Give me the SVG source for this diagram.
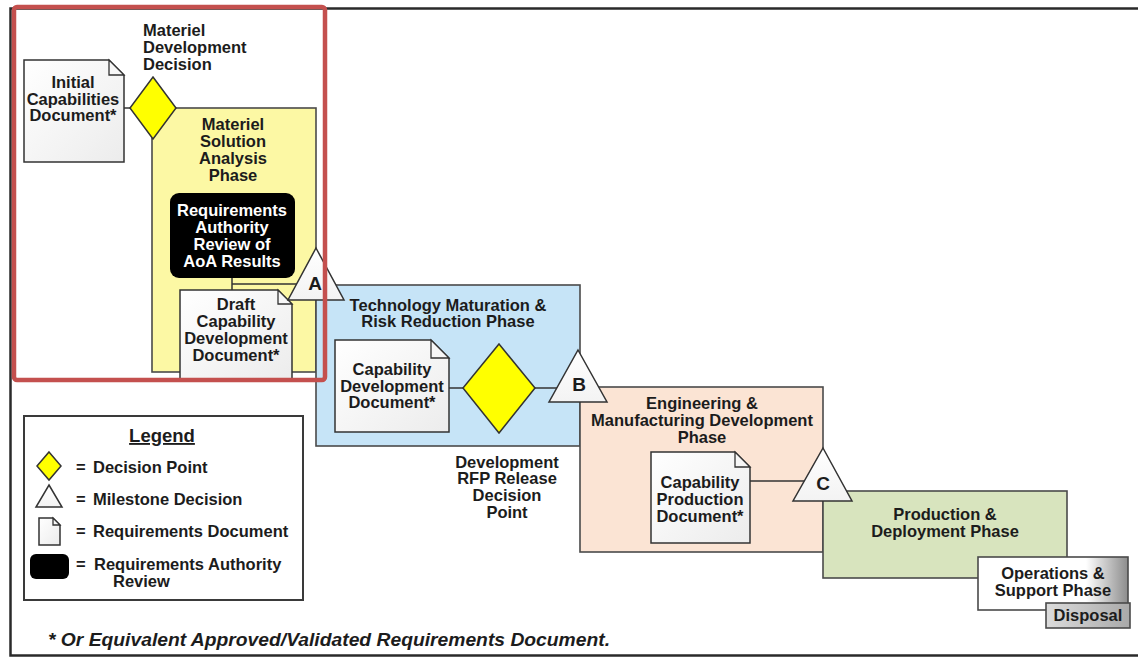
<svg xmlns="http://www.w3.org/2000/svg" width="1138" height="658" viewBox="0 0 1138 658">
<defs>
<linearGradient id="docGrad" x1="0" y1="0" x2="1" y2="1"><stop offset="0" stop-color="#ffffff"/><stop offset="1" stop-color="#ececec"/></linearGradient>
<linearGradient id="triGrad" x1="0" y1="0" x2="0" y2="1"><stop offset="0" stop-color="#ffffff"/><stop offset="1" stop-color="#f3f3f3"/></linearGradient>
<linearGradient id="osGrad" x1="0" y1="0" x2="1" y2="0"><stop offset="0" stop-color="#ffffff"/><stop offset="0.72" stop-color="#ffffff"/><stop offset="1" stop-color="#8c8c8c"/></linearGradient>
<linearGradient id="dispGrad" x1="0" y1="0" x2="1" y2="0"><stop offset="0" stop-color="#dcdcdc"/><stop offset="1" stop-color="#a9a9a9"/></linearGradient>
<style>
.t{font-family:"Liberation Sans",Arial,Helvetica,sans-serif;font-weight:bold;font-size:16.5px;fill:#1c1c1c;text-anchor:middle}
.s{text-anchor:start}
.w{fill:#ffffff}
.big{font-size:19px}
.box{stroke:#4a4a4a;stroke-width:1.6}
.doc{fill:url(#docGrad);stroke:#333;stroke-width:1.5}
.fold{fill:#f7f7f7;stroke:#333;stroke-width:1.3}
.dia{fill:#ffff00;stroke:#333;stroke-width:1.5}
.tri{fill:url(#triGrad);stroke:#333;stroke-width:1.5}
.ln{stroke:#333;stroke-width:1.5;fill:none}
</style>
</defs>
<rect x="0" y="0" width="1138" height="658" fill="#ffffff"/>
<rect id="frame" x="10.5" y="8.5" width="1140" height="647" fill="none" stroke="#2a2a2a" stroke-width="2.5"/>

<g id="msa-phase">
<rect class="box" x="152" y="108" width="164" height="264" fill="#fcf8a4"/>
<text class="t" x="233" y="130">Materiel</text>
<text class="t" x="233" y="147">Solution</text>
<text class="t" x="233" y="164">Analysis</text>
<text class="t" x="233" y="181">Phase</text>
</g>

<g id="tmrr-phase">
<rect class="box" x="316" y="285" width="264" height="161" fill="#c6e4f7"/>
<text class="t" x="448" y="311">Technology Maturation &amp;</text>
<text class="t" x="448" y="327">Risk Reduction Phase</text>
</g>

<g id="emd-phase">
<rect class="box" x="580" y="387" width="243" height="165" fill="#fbe4d4"/>
<text class="t" x="702" y="409">Engineering &amp;</text>
<text class="t" x="702" y="426">Manufacturing Development</text>
<text class="t" x="702" y="443">Phase</text>
</g>

<g id="pd-phase">
<rect class="box" x="823" y="491" width="244" height="87" fill="#d8e4be"/>
<text class="t" x="945" y="520">Production &amp;</text>
<text class="t" x="945" y="537">Deployment Phase</text>
</g>

<g id="connectors">
<line class="ln" x1="124" y1="108" x2="131" y2="108"/>
<line class="ln" x1="232" y1="278" x2="232" y2="291"/>
<line class="ln" x1="232" y1="284" x2="298" y2="284"/>
<line class="ln" x1="449" y1="388" x2="463" y2="388"/>
<line class="ln" x1="535" y1="388" x2="558" y2="388"/>
<line class="ln" x1="750" y1="481" x2="805" y2="481"/>
</g>

<g id="os-phase">
<rect class="box" x="978" y="557" width="150" height="53" fill="url(#osGrad)"/>
<text class="t" x="1053" y="579">Operations &amp;</text>
<text class="t" x="1053" y="596">Support Phase</text>
</g>

<g id="disposal">
<rect class="box" x="1046" y="603" width="84" height="25" fill="url(#dispGrad)"/>
<text class="t" x="1088" y="621">Disposal</text>
</g>

<g id="icd">
<path class="doc" d="M24 60 H109 L124 75 V162 H24 Z"/>
<path class="fold" d="M109 60 V75 H124 Z"/>
<text class="t" x="73" y="88">Initial</text>
<text class="t" x="73" y="105">Capabilities</text>
<text class="t" x="73" y="121">Document*</text>
</g>

<g id="mdd">
<polygon class="dia" points="153,77 176,108 153,139 130,108"/>
<text class="t s" x="143" y="36">Materiel</text>
<text class="t s" x="143" y="53">Development</text>
<text class="t s" x="143" y="70">Decision</text>
</g>

<g id="aoa-review">
<rect x="170" y="193" width="125" height="85" rx="9" fill="#000000"/>
<text class="t w" x="232" y="216">Requirements</text>
<text class="t w" x="232" y="233">Authority</text>
<text class="t w" x="232" y="250">Review of</text>
<text class="t w" x="232" y="267">AoA Results</text>
</g>

<g id="draft-cdd">
<path class="doc" d="M180 290 H278 L292 304 V380 H180 Z"/>
<path class="fold" d="M278 290 V304 H292 Z"/>
<text class="t" x="236" y="310">Draft</text>
<text class="t" x="236" y="327">Capability</text>
<text class="t" x="236" y="344">Development</text>
<text class="t" x="236" y="361">Document*</text>
</g>

<g id="milestone-a">
<polygon class="tri" points="316,248 344,300 288,300"/>
<text class="t big" x="315" y="290">A</text>
</g>

<g id="cdd">
<path class="doc" d="M335 340 H431 L449 358 V432 H335 Z"/>
<path class="fold" d="M431 340 V358 H449 Z"/>
<text class="t" x="392" y="375">Capability</text>
<text class="t" x="392" y="392">Development</text>
<text class="t" x="392" y="408">Document*</text>
</g>

<g id="drfp-decision">
<polygon class="dia" points="499,344 535,388 499,433 463,388"/>
<text class="t" x="507" y="468">Development</text>
<text class="t" x="507" y="484">RFP Release</text>
<text class="t" x="507" y="501">Decision</text>
<text class="t" x="507" y="518">Point</text>
</g>

<g id="milestone-b">
<polygon class="tri" points="578,350 607,402 549,402"/>
<text class="t big" x="579" y="391">B</text>
</g>

<g id="cpd">
<path class="doc" d="M651 452 H735 L750 467 V543 H651 Z"/>
<path class="fold" d="M735 452 V467 H750 Z"/>
<text class="t" x="700" y="488">Capability</text>
<text class="t" x="700" y="505">Production</text>
<text class="t" x="700" y="522">Document*</text>
</g>

<g id="milestone-c">
<polygon class="tri" points="823,448 852,501 793,501"/>
<text class="t big" x="823" y="490">C</text>
</g>

<g id="legend">
<rect x="24" y="416" width="279" height="184" fill="#ffffff" stroke="#3a3a3a" stroke-width="2"/>
<text class="t" x="162" y="442" style="font-size:18.5px;text-decoration:underline">Legend</text>
<polygon class="dia" points="49,452 61,466 49,480 37,466"/>
<text class="t s" x="76" y="473">=<tspan x="93">Decision Point</tspan></text>
<polygon class="tri" points="49,485 62,507 36,507"/>
<text class="t s" x="76" y="505">=<tspan x="93">Milestone Decision</tspan></text>
<path class="doc" d="M39 518 H53 L60 525 V545 H39 Z"/>
<path class="fold" d="M53 518 V525 H60 Z"/>
<text class="t s" x="76" y="537">=<tspan x="93">Requirements Document</tspan></text>
<rect x="30" y="554" width="39" height="25" rx="6" fill="#000000"/>
<text class="t s" x="76" y="570">=<tspan x="94">Requirements Authority</tspan></text>
<text class="t s" x="113" y="587">Review</text>
</g>

<g id="footnote">
<text class="t s" x="48" y="646" style="font-style:italic;font-size:18px" textLength="562" lengthAdjust="spacingAndGlyphs">* Or Equivalent Approved/Validated Requirements Document.</text>
</g>

<rect id="highlight" x="14" y="7" width="311" height="373" rx="3" fill="none" stroke="#c4504e" stroke-width="4.5"/>
</svg>
